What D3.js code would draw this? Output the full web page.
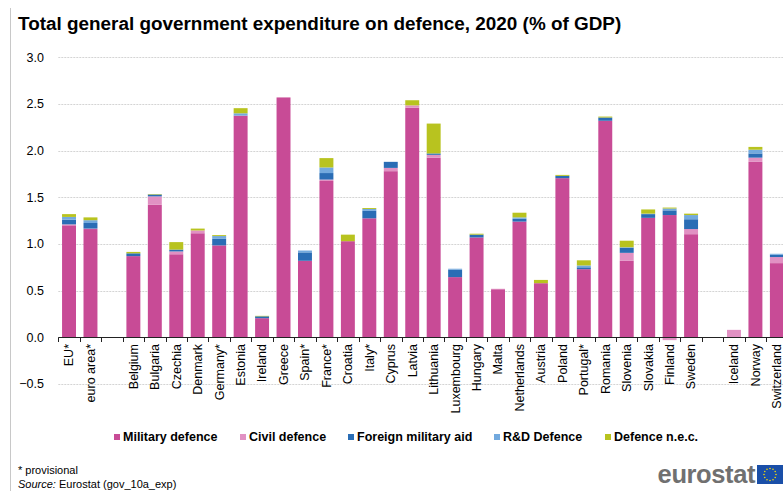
<!DOCTYPE html>
<html>
<head>
<meta charset="utf-8">
<script src="https://cdn.jsdelivr.net/npm/d3@7"></script>
<style>
  body { margin: 0; background: #fff; }
  svg { font-family: "Liberation Sans", Arial, sans-serif; }
</style>
</head>
<body>
<svg id="svg" width="783" height="491"></svg>
<script>
// categories ("" = empty slot between groups)
var categories = ["EU*", "euro area*", "", "Belgium", "Bulgaria", "Czechia", "Denmark", "Germany*",
  "Estonia", "Ireland", "Greece", "Spain*", "France*", "Croatia", "Italy*", "Cyprus", "Latvia",
  "Lithuania", "Luxembourg", "Hungary", "Malta", "Netherlands", "Austria", "Poland", "Portugal*",
  "Romania", "Slovenia", "Slovakia", "Finland", "Sweden", "", "Iceland", "Norway", "Switzerland"];

var military = [1.20, 1.16, 0, 0.87, 1.42, 0.89, 1.115, 0.985, 2.375, 0.205, 2.57, 0.82, 1.675, 1.03, 1.275,
  1.78, 2.46, 1.925, 0.645, 1.07, 0.515, 1.24, 0.58, 1.705, 0.73, 2.32, 0.82, 1.28, 1.31, 1.105, 0, 0, 1.88, 0.795];
var civil = [0.01, 0.005, 0, 0, 0.09, 0.03, 0.03, 0, 0, 0, 0, 0, 0.015, 0, 0,
  0.035, 0.025, 0.03, 0, 0, 0.005, 0, 0, 0, 0, 0, 0.085, 0, -0.03, 0.055, 0, 0.08, 0.045, 0.065];
var foreignAid = [0.05, 0.06, 0, 0.03, 0.02, 0.02, 0, 0.07, 0, 0.02, 0, 0.09, 0.07, 0, 0.08,
  0.065, 0, 0.015, 0.08, 0.03, 0, 0.03, 0, 0.025, 0.02, 0.035, 0.055, 0.04, 0.05, 0.105, 0, 0, 0.045, 0.025];
var rdDefence = [0.03, 0.03, 0, 0, 0, 0, 0, 0.03, 0.025, 0, 0, 0.02, 0.06, 0, 0.02,
  0, 0, 0, 0.01, 0, 0, 0.015, 0, 0, 0.02, 0, 0.005, 0.005, 0.02, 0.045, 0, 0, 0.04, 0.01];
var defenceNec = [0.03, 0.03, 0, 0.015, 0.005, 0.08, 0.02, 0.01, 0.055, 0.005, 0, 0, 0.1, 0.07, 0.01,
  0, 0.055, 0.32, 0, 0.01, 0, 0.05, 0.035, 0.01, 0.055, 0.01, 0.07, 0.045, 0.01, 0.015, 0, 0, 0.03, 0];

var seriesNames = ["Military defence", "Civil defence", "Foreign military aid", "R&D Defence", "Defence n.e.c."];
var seriesColors = ["#c84b96", "#e191c3", "#2a6db5", "#72a9de", "#b8c31f"];
var yTicks = [-0.5, 0, 0.5, 1.0, 1.5, 2.0, 2.5, 3.0];

var svg = d3.select("#svg");
var keys = ["m", "c", "f", "r", "n"];
var data = categories.map(function (c, i) {
  return { i: i, m: military[i], c: civil[i], f: foreignAid[i], r: rdDefence[i], n: defenceNec[i] };
});

// frame line on the left
svg.append("line").attr("x1", 10.5).attr("x2", 10.5).attr("y1", 8).attr("y2", 491)
  .attr("stroke", "#c8c8c8").attr("stroke-width", 1);

svg.append("text").attr("x", 18).attr("y", 30)
  .style("font-size", "18.9px").style("font-weight", "bold").attr("fill", "#000")
  .text("Total general government expenditure on defence, 2020 (% of GDP)");

var step = 21.45;
var x0 = 58.3;
var xScale = d3.scaleBand()
  .domain(d3.range(categories.length))
  .range([x0, x0 + step * categories.length])
  .paddingInner(0.35)
  .paddingOuter(0.175);

var yScale = d3.scaleLinear().domain([-0.5, 3.0]).range([384, 57.3]);

// gridlines
svg.append("g").selectAll("line").data(yTicks.filter(function (d) { return d !== 0; }))
  .enter().append("line")
  .attr("x1", x0).attr("x2", 783)
  .attr("y1", function (d) { return Math.round(yScale(d)) + 0.5; })
  .attr("y2", function (d) { return Math.round(yScale(d)) + 0.5; })
  .attr("stroke", "#d4d4d4").attr("stroke-dasharray", "2,1");

// y labels
svg.append("g").selectAll("text").data(yTicks).enter().append("text")
  .attr("x", 44).attr("y", function (d) { return yScale(d); }).attr("dy", "0.35em")
  .attr("text-anchor", "end").style("font-size", "12.5px").attr("fill", "#000")
  .text(function (d) { return d3.format(".1f")(d); });

var stack = d3.stack().keys(keys).offset(d3.stackOffsetDiverging);
var layers = stack(data);

svg.append("g").selectAll("g").data(layers).enter().append("g")
  .attr("fill", function (d, i) { return seriesColors[i]; })
  .selectAll("rect").data(function (d) { return d; }).enter().append("rect")
  .attr("x", function (d) { return xScale(d.data.i); })
  .attr("width", xScale.bandwidth())
  .attr("y", function (d) { return yScale(Math.max(d[0], d[1])); })
  .attr("height", function (d) { return Math.abs(yScale(d[0]) - yScale(d[1])); });

// x axis line and boundary ticks
var y0 = Math.round(yScale(0)) + 0.5;
svg.append("line").attr("x1", x0).attr("x2", 783).attr("y1", y0).attr("y2", y0)
  .attr("stroke", "#222").attr("stroke-width", 1);
svg.append("g").selectAll("line").data(d3.range(categories.length + 1)).enter().append("line")
  .attr("x1", function (i) { return Math.round(x0 + i * step) + 0.5; })
  .attr("x2", function (i) { return Math.round(x0 + i * step) + 0.5; })
  .attr("y1", y0).attr("y2", y0 + 4.5)
  .attr("stroke", "#222");

svg.append("g").selectAll("text").data(data.filter(function (d) { return categories[d.i] !== ""; }))
  .enter().append("text")
  .attr("transform", function (d) {
    return "translate(" + (xScale(d.i) + xScale.bandwidth() / 2) + "," + 344 + ") rotate(-90)";
  })
  .attr("dy", "0.35em").attr("text-anchor", "end")
  .style("font-size", "12.5px").attr("fill", "#000")
  .text(function (d) { return categories[d.i]; });

// legend
var legendX = [114, 240, 348, 494, 605];
var legend = svg.append("g").selectAll("g").data(seriesNames).enter().append("g")
  .attr("transform", function (d, i) { return "translate(" + legendX[i] + ",437)"; });
legend.append("rect").attr("x", 0).attr("y", -3).attr("width", 6).attr("height", 6)
  .attr("fill", function (d, i) { return seriesColors[i]; });
legend.append("text").attr("x", 9).attr("dy", "0.35em")
  .style("font-size", "12.5px").style("font-weight", "bold").attr("fill", "#000")
  .text(function (d) { return d; });

// footer
svg.append("text").attr("x", 18).attr("y", 474)
  .style("font-family", "'Liberation Sans Narrow', 'Arial Narrow', sans-serif")
  .style("font-size", "11px").text("* provisional");
var src = svg.append("text").attr("x", 18).attr("y", 487.5)
  .style("font-family", "'Liberation Sans Narrow', 'Arial Narrow', sans-serif")
  .style("font-size", "11px");
src.append("tspan").style("font-style", "italic").text("Source:");
src.append("tspan").text(" Eurostat (gov_10a_exp)");

// eurostat logo
svg.append("text").attr("x", 755).attr("y", 483).attr("text-anchor", "end")
  .style("font-size", "25.5px").style("font-weight", "bold").attr("fill", "#707070")
  .style("letter-spacing", "-0.4px").text("eurostat");
svg.append("rect").attr("x", 757).attr("y", 465).attr("width", 26).attr("height", 19).attr("fill", "#1a4fa8");
svg.append("g").selectAll("circle").data(d3.range(12)).enter().append("circle")
  .attr("cx", function (k) { return 770 + 6 * Math.cos(k * Math.PI / 6); })
  .attr("cy", function (k) { return 474.5 + 6 * Math.sin(k * Math.PI / 6); })
  .attr("r", 0.8).attr("fill", "#f5d90a");
</script>
</body>
</html>
